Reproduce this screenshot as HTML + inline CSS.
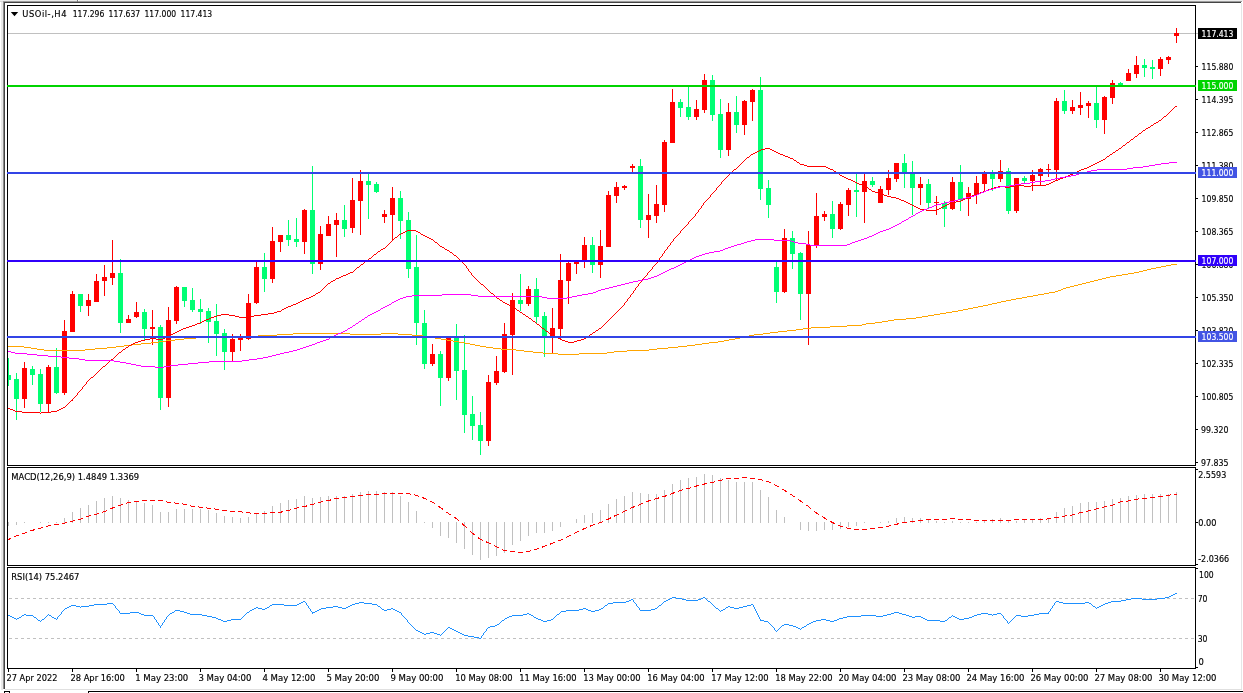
<!DOCTYPE html>
<html lang="en"><head><meta charset="utf-8"><title>USOil-,H4</title>
<style>
html,body{margin:0;padding:0;background:#fff;overflow:hidden}
body{width:1243px;height:693px}
svg{display:block}
text{font-family:"DejaVu Sans Condensed","Liberation Sans",sans-serif;font-size:9.3px;fill:#000;stroke:#000;stroke-width:.15px}
.w{fill:#fff;stroke:#fff}
</style></head><body>
<svg width="1243" height="693" viewBox="0 0 1243 693">
<rect width="1243" height="693" fill="#fff"/>
<g shape-rendering="crispEdges">
<rect x="0" y="0" width="1243" height="1" fill="#ececec"/>
<rect x="0" y="1" width="1242" height="1" fill="#9c9c9c"/><rect x="0" y="1" width="3" height="1" fill="#d8d8d8"/>
<rect x="3" y="2" width="1238" height="1" fill="#444"/>
<rect x="0" y="2" width="1" height="688" fill="#fff"/>
<rect x="1" y="2" width="2" height="688" fill="#e8e8e8"/>
<rect x="3" y="2" width="1" height="687" fill="#8c8c8c"/>
<rect x="4" y="2" width="1" height="687" fill="#444"/>
<rect x="77" y="0" width="1" height="2" fill="#777"/><rect x="78" y="0" width="1" height="1" fill="#fff"/>
<rect x="1241" y="3" width="1" height="687" fill="#e6e6e6"/>
<rect x="5" y="689" width="1237" height="1" fill="#e0e0e0"/>
<rect x="88" y="691" width="1155" height="1" fill="#000"/>
<rect x="88" y="692" width="1" height="1" fill="#000"/><rect x="4" y="691" width="6" height="1" fill="#000"/><rect x="4" y="692" width="1" height="1" fill="#000"/><rect x="9" y="692" width="1" height="1" fill="#000"/>
</g>
<defs><clipPath id="c1"><rect x="8" y="6" width="1187" height="459"/></clipPath><clipPath id="c2"><rect x="8" y="468" width="1187" height="97"/></clipPath><clipPath id="c3"><rect x="8" y="568" width="1187" height="100"/></clipPath></defs>
<g shape-rendering="crispEdges">
<rect x="8" y="33" width="1190" height="1" fill="#c0c0c0"/>
</g>
<g clip-path="url(#c1)" shape-rendering="crispEdges">
<rect x="8" y="358" width="1" height="28" fill="#00ff73"/><rect x="6" y="375" width="5" height="5" fill="#00ff73"/>
<rect x="16" y="373" width="1" height="47" fill="#00ff73"/><rect x="14" y="379" width="5" height="20" fill="#00ff73"/>
<rect x="24" y="362" width="1" height="46" fill="#ff0000"/><rect x="22" y="368" width="5" height="31" fill="#ff0000"/>
<rect x="32" y="366" width="1" height="19" fill="#00ff73"/><rect x="30" y="369" width="5" height="6" fill="#00ff73"/>
<rect x="40" y="369" width="1" height="43" fill="#00ff73"/><rect x="38" y="374" width="5" height="30" fill="#00ff73"/>
<rect x="48" y="365" width="1" height="47" fill="#ff0000"/><rect x="46" y="367" width="5" height="37" fill="#ff0000"/>
<rect x="56" y="348" width="1" height="46" fill="#00ff73"/><rect x="54" y="367" width="5" height="26" fill="#00ff73"/>
<rect x="64" y="320" width="1" height="75" fill="#ff0000"/><rect x="62" y="331" width="5" height="62" fill="#ff0000"/>
<rect x="72" y="291" width="1" height="41" fill="#ff0000"/><rect x="70" y="294" width="5" height="38" fill="#ff0000"/>
<rect x="80" y="294" width="1" height="18" fill="#00ff73"/><rect x="78" y="294" width="5" height="12" fill="#00ff73"/>
<rect x="88" y="294" width="1" height="22" fill="#ff0000"/><rect x="86" y="300" width="5" height="6" fill="#ff0000"/>
<rect x="96" y="274" width="1" height="28" fill="#ff0000"/><rect x="94" y="281" width="5" height="21" fill="#ff0000"/>
<rect x="104" y="265" width="1" height="31" fill="#ff0000"/><rect x="102" y="277" width="5" height="4" fill="#ff0000"/>
<rect x="112" y="240" width="1" height="45" fill="#ff0000"/><rect x="110" y="273" width="5" height="5" fill="#ff0000"/>
<rect x="120" y="259" width="1" height="74" fill="#00ff73"/><rect x="118" y="273" width="5" height="50" fill="#00ff73"/>
<rect x="128" y="315" width="1" height="8" fill="#ff0000"/><rect x="126" y="319" width="5" height="4" fill="#ff0000"/>
<rect x="136" y="302" width="1" height="16" fill="#ff0000"/><rect x="134" y="312" width="5" height="5" fill="#ff0000"/>
<rect x="144" y="309" width="1" height="31" fill="#00ff73"/><rect x="142" y="312" width="5" height="17" fill="#00ff73"/>
<rect x="152" y="310" width="1" height="35" fill="#ff0000"/><rect x="150" y="327" width="5" height="2" fill="#ff0000"/>
<rect x="160" y="325" width="1" height="85" fill="#00ff73"/><rect x="158" y="327" width="5" height="71" fill="#00ff73"/>
<rect x="168" y="307" width="1" height="100" fill="#ff0000"/><rect x="166" y="320" width="5" height="78" fill="#ff0000"/>
<rect x="176" y="286" width="1" height="38" fill="#ff0000"/><rect x="174" y="287" width="5" height="34" fill="#ff0000"/>
<rect x="184" y="287" width="1" height="20" fill="#00ff73"/><rect x="182" y="287" width="5" height="14" fill="#00ff73"/>
<rect x="192" y="288" width="1" height="24" fill="#00ff73"/><rect x="190" y="300" width="5" height="10" fill="#00ff73"/>
<rect x="200" y="299" width="1" height="25" fill="#00ff73"/><rect x="198" y="309" width="5" height="3" fill="#00ff73"/>
<rect x="208" y="308" width="1" height="35" fill="#00ff73"/><rect x="206" y="311" width="5" height="11" fill="#00ff73"/>
<rect x="216" y="304" width="1" height="52" fill="#00ff73"/><rect x="214" y="321" width="5" height="13" fill="#00ff73"/>
<rect x="224" y="329" width="1" height="41" fill="#00ff73"/><rect x="222" y="333" width="5" height="19" fill="#00ff73"/>
<rect x="232" y="334" width="1" height="27" fill="#ff0000"/><rect x="230" y="339" width="5" height="13" fill="#ff0000"/>
<rect x="240" y="334" width="1" height="17" fill="#ff0000"/><rect x="238" y="338" width="5" height="2" fill="#ff0000"/>
<rect x="248" y="294" width="1" height="46" fill="#ff0000"/><rect x="246" y="303" width="5" height="36" fill="#ff0000"/>
<rect x="256" y="262" width="1" height="42" fill="#ff0000"/><rect x="254" y="267" width="5" height="36" fill="#ff0000"/>
<rect x="264" y="253" width="1" height="39" fill="#00ff73"/><rect x="262" y="267" width="5" height="12" fill="#00ff73"/>
<rect x="272" y="227" width="1" height="56" fill="#ff0000"/><rect x="270" y="241" width="5" height="38" fill="#ff0000"/>
<rect x="280" y="235" width="1" height="17" fill="#ff0000"/><rect x="278" y="235" width="5" height="7" fill="#ff0000"/>
<rect x="288" y="220" width="1" height="26" fill="#00ff73"/><rect x="286" y="235" width="5" height="5" fill="#00ff73"/>
<rect x="296" y="218" width="1" height="29" fill="#00ff73"/><rect x="294" y="239" width="5" height="3" fill="#00ff73"/>
<rect x="304" y="209" width="1" height="45" fill="#ff0000"/><rect x="302" y="210" width="5" height="32" fill="#ff0000"/>
<rect x="312" y="166" width="1" height="108" fill="#00ff73"/><rect x="310" y="210" width="5" height="54" fill="#00ff73"/>
<rect x="320" y="226" width="1" height="44" fill="#ff0000"/><rect x="318" y="234" width="5" height="30" fill="#ff0000"/>
<rect x="328" y="216" width="1" height="20" fill="#ff0000"/><rect x="326" y="224" width="5" height="12" fill="#ff0000"/>
<rect x="336" y="213" width="1" height="44" fill="#ff0000"/><rect x="334" y="220" width="5" height="5" fill="#ff0000"/>
<rect x="344" y="205" width="1" height="32" fill="#00ff73"/><rect x="342" y="220" width="5" height="9" fill="#00ff73"/>
<rect x="352" y="178" width="1" height="55" fill="#ff0000"/><rect x="350" y="200" width="5" height="28" fill="#ff0000"/>
<rect x="360" y="170" width="1" height="65" fill="#ff0000"/><rect x="358" y="181" width="5" height="20" fill="#ff0000"/>
<rect x="368" y="174" width="1" height="45" fill="#00ff73"/><rect x="366" y="181" width="5" height="4" fill="#00ff73"/>
<rect x="376" y="182" width="1" height="11" fill="#00ff73"/><rect x="374" y="184" width="5" height="8" fill="#00ff73"/>
<rect x="384" y="210" width="1" height="13" fill="#ff0000"/><rect x="382" y="214" width="5" height="3" fill="#ff0000"/>
<rect x="392" y="187" width="1" height="54" fill="#ff0000"/><rect x="390" y="198" width="5" height="17" fill="#ff0000"/>
<rect x="400" y="191" width="1" height="48" fill="#00ff73"/><rect x="398" y="198" width="5" height="23" fill="#00ff73"/>
<rect x="408" y="212" width="1" height="66" fill="#00ff73"/><rect x="406" y="220" width="5" height="49" fill="#00ff73"/>
<rect x="416" y="235" width="1" height="110" fill="#00ff73"/><rect x="414" y="267" width="5" height="56" fill="#00ff73"/>
<rect x="424" y="310" width="1" height="59" fill="#00ff73"/><rect x="422" y="323" width="5" height="41" fill="#00ff73"/>
<rect x="432" y="344" width="1" height="22" fill="#ff0000"/><rect x="430" y="354" width="5" height="10" fill="#ff0000"/>
<rect x="440" y="351" width="1" height="55" fill="#00ff73"/><rect x="438" y="354" width="5" height="24" fill="#00ff73"/>
<rect x="448" y="336" width="1" height="45" fill="#ff0000"/><rect x="446" y="336" width="5" height="42" fill="#ff0000"/>
<rect x="456" y="324" width="1" height="76" fill="#00ff73"/><rect x="454" y="337" width="5" height="34" fill="#00ff73"/>
<rect x="464" y="335" width="1" height="98" fill="#00ff73"/><rect x="462" y="370" width="5" height="45" fill="#00ff73"/>
<rect x="472" y="396" width="1" height="44" fill="#00ff73"/><rect x="470" y="414" width="5" height="12" fill="#00ff73"/>
<rect x="480" y="412" width="1" height="43" fill="#00ff73"/><rect x="478" y="425" width="5" height="16" fill="#00ff73"/>
<rect x="488" y="375" width="1" height="71" fill="#ff0000"/><rect x="486" y="382" width="5" height="59" fill="#ff0000"/>
<rect x="496" y="356" width="1" height="29" fill="#ff0000"/><rect x="494" y="371" width="5" height="12" fill="#ff0000"/>
<rect x="504" y="323" width="1" height="50" fill="#ff0000"/><rect x="502" y="334" width="5" height="38" fill="#ff0000"/>
<rect x="512" y="293" width="1" height="82" fill="#ff0000"/><rect x="510" y="300" width="5" height="35" fill="#ff0000"/>
<rect x="520" y="274" width="1" height="37" fill="#00ff73"/><rect x="518" y="300" width="5" height="4" fill="#00ff73"/>
<rect x="528" y="286" width="1" height="20" fill="#ff0000"/><rect x="526" y="289" width="5" height="15" fill="#ff0000"/>
<rect x="536" y="278" width="1" height="45" fill="#00ff73"/><rect x="534" y="289" width="5" height="28" fill="#00ff73"/>
<rect x="544" y="312" width="1" height="45" fill="#00ff73"/><rect x="542" y="316" width="5" height="20" fill="#00ff73"/>
<rect x="552" y="308" width="1" height="45" fill="#ff0000"/><rect x="550" y="328" width="5" height="8" fill="#ff0000"/>
<rect x="560" y="254" width="1" height="85" fill="#ff0000"/><rect x="558" y="280" width="5" height="49" fill="#ff0000"/>
<rect x="568" y="260" width="1" height="44" fill="#ff0000"/><rect x="566" y="263" width="5" height="18" fill="#ff0000"/>
<rect x="576" y="262" width="1" height="12" fill="#ff0000"/><rect x="574" y="262" width="5" height="2" fill="#ff0000"/>
<rect x="584" y="237" width="1" height="31" fill="#ff0000"/><rect x="582" y="245" width="5" height="17" fill="#ff0000"/>
<rect x="592" y="237" width="1" height="36" fill="#00ff73"/><rect x="590" y="245" width="5" height="20" fill="#00ff73"/>
<rect x="600" y="230" width="1" height="48" fill="#ff0000"/><rect x="598" y="246" width="5" height="19" fill="#ff0000"/>
<rect x="608" y="191" width="1" height="56" fill="#ff0000"/><rect x="606" y="195" width="5" height="52" fill="#ff0000"/>
<rect x="616" y="182" width="1" height="21" fill="#ff0000"/><rect x="614" y="187" width="5" height="9" fill="#ff0000"/>
<rect x="624" y="185" width="1" height="5" fill="#ff0000"/><rect x="622" y="186" width="5" height="2" fill="#ff0000"/>
<rect x="632" y="164" width="1" height="8" fill="#ff0000"/><rect x="630" y="166" width="5" height="2" fill="#ff0000"/>
<rect x="640" y="159" width="1" height="69" fill="#00ff73"/><rect x="638" y="166" width="5" height="54" fill="#00ff73"/>
<rect x="648" y="194" width="1" height="44" fill="#ff0000"/><rect x="646" y="215" width="5" height="5" fill="#ff0000"/>
<rect x="656" y="185" width="1" height="38" fill="#ff0000"/><rect x="654" y="204" width="5" height="12" fill="#ff0000"/>
<rect x="664" y="140" width="1" height="72" fill="#ff0000"/><rect x="662" y="142" width="5" height="63" fill="#ff0000"/>
<rect x="672" y="89" width="1" height="54" fill="#ff0000"/><rect x="670" y="102" width="5" height="41" fill="#ff0000"/>
<rect x="680" y="99" width="1" height="18" fill="#00ff73"/><rect x="678" y="102" width="5" height="6" fill="#00ff73"/>
<rect x="688" y="87" width="1" height="33" fill="#00ff73"/><rect x="686" y="107" width="5" height="10" fill="#00ff73"/>
<rect x="696" y="100" width="1" height="20" fill="#ff0000"/><rect x="694" y="109" width="5" height="8" fill="#ff0000"/>
<rect x="704" y="74" width="1" height="39" fill="#ff0000"/><rect x="702" y="80" width="5" height="30" fill="#ff0000"/>
<rect x="712" y="75" width="1" height="46" fill="#00ff73"/><rect x="710" y="80" width="5" height="35" fill="#00ff73"/>
<rect x="720" y="99" width="1" height="59" fill="#00ff73"/><rect x="718" y="114" width="5" height="36" fill="#00ff73"/>
<rect x="728" y="103" width="1" height="53" fill="#ff0000"/><rect x="726" y="112" width="5" height="38" fill="#ff0000"/>
<rect x="736" y="96" width="1" height="37" fill="#00ff73"/><rect x="734" y="112" width="5" height="13" fill="#00ff73"/>
<rect x="744" y="100" width="1" height="35" fill="#ff0000"/><rect x="742" y="101" width="5" height="24" fill="#ff0000"/>
<rect x="752" y="89" width="1" height="32" fill="#ff0000"/><rect x="750" y="90" width="5" height="12" fill="#ff0000"/>
<rect x="760" y="77" width="1" height="123" fill="#00ff73"/><rect x="758" y="90" width="5" height="99" fill="#00ff73"/>
<rect x="768" y="180" width="1" height="38" fill="#00ff73"/><rect x="766" y="188" width="5" height="17" fill="#00ff73"/>
<rect x="776" y="262" width="1" height="41" fill="#00ff73"/><rect x="774" y="267" width="5" height="25" fill="#00ff73"/>
<rect x="784" y="229" width="1" height="64" fill="#ff0000"/><rect x="782" y="238" width="5" height="54" fill="#ff0000"/>
<rect x="792" y="231" width="1" height="38" fill="#00ff73"/><rect x="790" y="238" width="5" height="16" fill="#00ff73"/>
<rect x="800" y="252" width="1" height="68" fill="#00ff73"/><rect x="798" y="253" width="5" height="41" fill="#00ff73"/>
<rect x="808" y="231" width="1" height="114" fill="#ff0000"/><rect x="806" y="245" width="5" height="49" fill="#ff0000"/>
<rect x="816" y="193" width="1" height="55" fill="#ff0000"/><rect x="814" y="216" width="5" height="29" fill="#ff0000"/>
<rect x="824" y="211" width="1" height="10" fill="#ff0000"/><rect x="822" y="214" width="5" height="3" fill="#ff0000"/>
<rect x="832" y="201" width="1" height="37" fill="#00ff73"/><rect x="830" y="214" width="5" height="15" fill="#00ff73"/>
<rect x="840" y="202" width="1" height="28" fill="#ff0000"/><rect x="838" y="204" width="5" height="25" fill="#ff0000"/>
<rect x="848" y="188" width="1" height="28" fill="#ff0000"/><rect x="846" y="190" width="5" height="15" fill="#ff0000"/>
<rect x="856" y="174" width="1" height="43" fill="#00ff73"/><rect x="854" y="190" width="5" height="2" fill="#00ff73"/>
<rect x="864" y="174" width="1" height="49" fill="#ff0000"/><rect x="862" y="181" width="5" height="11" fill="#ff0000"/>
<rect x="872" y="177" width="1" height="10" fill="#00ff73"/><rect x="870" y="181" width="5" height="4" fill="#00ff73"/>
<rect x="880" y="186" width="1" height="17" fill="#ff0000"/><rect x="878" y="189" width="5" height="14" fill="#ff0000"/>
<rect x="888" y="170" width="1" height="25" fill="#ff0000"/><rect x="886" y="178" width="5" height="12" fill="#ff0000"/>
<rect x="896" y="163" width="1" height="19" fill="#ff0000"/><rect x="894" y="163" width="5" height="16" fill="#ff0000"/>
<rect x="904" y="154" width="1" height="34" fill="#00ff73"/><rect x="902" y="163" width="5" height="11" fill="#00ff73"/>
<rect x="912" y="161" width="1" height="54" fill="#00ff73"/><rect x="910" y="172" width="5" height="16" fill="#00ff73"/>
<rect x="920" y="177" width="1" height="28" fill="#ff0000"/><rect x="918" y="184" width="5" height="4" fill="#ff0000"/>
<rect x="928" y="179" width="1" height="30" fill="#00ff73"/><rect x="926" y="184" width="5" height="19" fill="#00ff73"/>
<rect x="936" y="196" width="1" height="19" fill="#ff0000"/><rect x="934" y="202" width="5" height="1" fill="#ff0000"/>
<rect x="944" y="201" width="1" height="26" fill="#00ff73"/><rect x="942" y="203" width="5" height="6" fill="#00ff73"/>
<rect x="952" y="177" width="1" height="33" fill="#ff0000"/><rect x="950" y="182" width="5" height="27" fill="#ff0000"/>
<rect x="960" y="165" width="1" height="46" fill="#00ff73"/><rect x="958" y="182" width="5" height="18" fill="#00ff73"/>
<rect x="968" y="187" width="1" height="29" fill="#ff0000"/><rect x="966" y="193" width="5" height="6" fill="#ff0000"/>
<rect x="976" y="176" width="1" height="28" fill="#ff0000"/><rect x="974" y="183" width="5" height="12" fill="#ff0000"/>
<rect x="984" y="171" width="1" height="21" fill="#ff0000"/><rect x="982" y="174" width="5" height="10" fill="#ff0000"/>
<rect x="992" y="170" width="1" height="21" fill="#00ff73"/><rect x="990" y="174" width="5" height="5" fill="#00ff73"/>
<rect x="1000" y="160" width="1" height="22" fill="#ff0000"/><rect x="998" y="171" width="5" height="8" fill="#ff0000"/>
<rect x="1008" y="168" width="1" height="46" fill="#00ff73"/><rect x="1006" y="171" width="5" height="40" fill="#00ff73"/>
<rect x="1016" y="178" width="1" height="35" fill="#ff0000"/><rect x="1014" y="178" width="5" height="33" fill="#ff0000"/>
<rect x="1024" y="176" width="1" height="7" fill="#00ff73"/><rect x="1022" y="178" width="5" height="3" fill="#00ff73"/>
<rect x="1032" y="170" width="1" height="21" fill="#ff0000"/><rect x="1030" y="175" width="5" height="6" fill="#ff0000"/>
<rect x="1040" y="168" width="1" height="17" fill="#ff0000"/><rect x="1038" y="169" width="5" height="7" fill="#ff0000"/>
<rect x="1048" y="164" width="1" height="13" fill="#ff0000"/><rect x="1046" y="169" width="5" height="1" fill="#ff0000"/>
<rect x="1056" y="98" width="1" height="82" fill="#ff0000"/><rect x="1054" y="101" width="5" height="69" fill="#ff0000"/>
<rect x="1064" y="90" width="1" height="24" fill="#00ff73"/><rect x="1062" y="101" width="5" height="10" fill="#00ff73"/>
<rect x="1072" y="100" width="1" height="14" fill="#ff0000"/><rect x="1070" y="107" width="5" height="4" fill="#ff0000"/>
<rect x="1080" y="92" width="1" height="23" fill="#ff0000"/><rect x="1078" y="105" width="5" height="3" fill="#ff0000"/>
<rect x="1088" y="101" width="1" height="17" fill="#ff0000"/><rect x="1086" y="103" width="5" height="3" fill="#ff0000"/>
<rect x="1096" y="87" width="1" height="41" fill="#00ff73"/><rect x="1094" y="103" width="5" height="17" fill="#00ff73"/>
<rect x="1104" y="96" width="1" height="38" fill="#ff0000"/><rect x="1102" y="97" width="5" height="23" fill="#ff0000"/>
<rect x="1112" y="80" width="1" height="24" fill="#ff0000"/><rect x="1110" y="83" width="5" height="15" fill="#ff0000"/>
<rect x="1120" y="82" width="1" height="5" fill="#00ff73"/><rect x="1118" y="83" width="5" height="4" fill="#00ff73"/>
<rect x="1128" y="69" width="1" height="12" fill="#ff0000"/><rect x="1126" y="73" width="5" height="8" fill="#ff0000"/>
<rect x="1136" y="56" width="1" height="22" fill="#ff0000"/><rect x="1134" y="65" width="5" height="9" fill="#ff0000"/>
<rect x="1144" y="59" width="1" height="18" fill="#00ff73"/><rect x="1142" y="65" width="5" height="3" fill="#00ff73"/>
<rect x="1152" y="60" width="1" height="19" fill="#00ff73"/><rect x="1150" y="67" width="5" height="2" fill="#00ff73"/>
<rect x="1160" y="57" width="1" height="19" fill="#ff0000"/><rect x="1158" y="59" width="5" height="10" fill="#ff0000"/>
<rect x="1168" y="56" width="1" height="8" fill="#ff0000"/><rect x="1166" y="57" width="5" height="3" fill="#ff0000"/>
<rect x="1176" y="28" width="1" height="15" fill="#ff0000"/><rect x="1174" y="33" width="5" height="3" fill="#ff0000"/>
</g>
<g clip-path="url(#c1)" shape-rendering="crispEdges">
<path d="M1171 264h6M1166 265h5M1161 266h5M1156 267h5M1151 268h5M1147 269h4M1143 270h4M1139 271h4M1134 272h5M1128 273h6M1122 274h6M1116 275h6M1110 276h6M1106 277h4M1102 278h4M1098 279h4M1094 280h4M1090 281h4M1086 282h4M1082 283h4M1078 284h4M1074 285h4M1070 286h4M1066 287h4M1063 288h3M1061 289h2M1058 290h3M1055 291h3M1049 292h6M1044 293h5M1038 294h6M1033 295h5M1027 296h6M1022 297h5M1016 298h6M1011 299h5M1006 300h5M1001 301h5M997 302h4M992 303h5M988 304h4M983 305h5M978 306h5M973 307h5M968 308h5M963 309h5M958 310h5M952 311h6M946 312h6M940 313h6M934 314h6M928 315h6M922 316h6M916 317h6M906 318h10M894 319h12M888 320h6M882 321h6M875 322h7M866 323h9M862 324h4M847 325h15M830 326h17M811 327h19M803 328h8M796 329h7M787 330h9M778 331h9M770 332h8M293 333h57M381 333h17M763 333h7M277 334h16M350 334h31M398 334h14M754 334h9M258 335h19M412 335h11M749 335h5M225 336h33M423 336h6M745 336h4M196 337h29M429 337h6M740 337h5M184 338h12M435 338h6M735 338h5M175 339h9M441 339h6M729 339h6M166 340h9M447 340h6M724 340h5M159 341h7M453 341h6M718 341h6M151 342h8M459 342h6M709 342h9M141 343h10M465 343h5M702 343h7M132 344h9M470 344h5M695 344h7M124 345h8M475 345h5M687 345h8M8 346h16M116 346h8M480 346h6M678 346h9M24 347h7M107 347h9M486 347h7M668 347h10M31 348h6M95 348h12M493 348h8M657 348h11M37 349h7M85 349h10M501 349h15M649 349h8M44 350h41M516 350h8M627 350h22M524 351h9M614 351h13M533 352h10M607 352h7M543 353h15M579 353h28M558 354h21" fill="none" stroke="#ffa500" stroke-width="1" transform="translate(0,0.5)" />
<path d="M1175 106h2M1174 107h1M1173 108h1M1172 109h1M1171 110h1M1170 111h1M1169 112h1M1168 113h1M1167 114h1M1166 115h1M1164 116h2M1163 117h1M1162 118h1M1161 119h1M1159 120h2M1158 121h1M1156 122h2M1154 123h2M1153 124h1M1151 125h2M1150 126h1M1148 127h2M1146 128h2M1145 129h1M1143 130h2M1142 131h1M1141 132h1M1139 133h2M1138 134h1M1137 135h1M1135 136h2M1134 137h1M1133 138h1M1131 139h2M1130 140h1M1129 141h1M1127 142h2M1126 143h1M1125 144h1M1123 145h2M1122 146h1M1121 147h1M765 148h5M1119 148h2M761 149h4M770 149h2M1118 149h1M759 150h2M772 150h2M1116 150h2M757 151h2M774 151h2M1115 151h1M755 152h2M776 152h2M1113 152h2M753 153h2M778 153h2M1112 153h1M751 154h2M780 154h3M1110 154h2M750 155h1M783 155h2M1109 155h1M749 156h1M785 156h3M1107 156h2M747 157h2M788 157h2M1106 157h1M746 158h1M790 158h3M1105 158h1M745 159h1M793 159h1M1103 159h2M744 160h1M794 160h2M1101 160h2M743 161h1M796 161h1M1099 161h2M742 162h1M797 162h2M1097 162h2M741 163h1M799 163h1M1095 163h2M740 164h1M800 164h4M1093 164h2M739 165h1M804 165h3M1091 165h2M738 166h1M807 166h19M1089 166h2M737 167h1M826 167h2M1087 167h2M736 168h1M828 168h2M1084 168h3M734 169h2M830 169h3M1081 169h3M733 170h1M833 170h1M1079 170h2M732 171h1M834 171h2M1077 171h2M731 172h1M836 172h1M1075 172h2M730 173h1M837 173h2M1073 173h2M729 174h1M839 174h1M1070 174h3M728 175h1M840 175h2M1068 175h2M727 176h1M842 176h2M1066 176h2M726 177h1M844 177h2M1063 177h3M725 178h1M846 178h2M1060 178h3M724 179h1M848 179h3M1058 179h2M723 180h1M851 180h2M1055 180h3M722 181h1M853 181h2M1053 181h2M721 182h1M855 182h2M1051 182h2M721 183h1M857 183h2M1049 183h2M720 184h1M859 184h3M1046 184h3M719 185h1M862 185h2M1014 185h10M1031 185h15M718 186h1M864 186h2M998 186h7M1010 186h4M1024 186h7M717 187h1M866 187h2M994 187h4M1005 187h5M716 188h1M868 188h1M991 188h3M716 189h1M869 189h2M988 189h3M715 190h1M871 190h1M986 190h2M714 191h1M872 191h3M983 191h3M713 192h1M875 192h3M980 192h3M712 193h1M878 193h2M977 193h3M711 194h1M880 194h4M975 194h2M710 195h1M884 195h3M972 195h3M710 196h1M887 196h4M970 196h2M709 197h1M891 197h5M967 197h3M708 198h1M896 198h3M965 198h2M707 199h1M899 199h2M963 199h2M706 200h1M901 200h3M961 200h2M705 201h1M904 201h2M956 201h5M704 202h1M906 202h2M952 202h4M703 203h1M908 203h2M949 203h3M703 204h1M910 204h2M947 204h2M702 205h1M912 205h2M945 205h2M701 206h1M914 206h2M943 206h2M701 207h1M916 207h2M941 207h2M700 208h1M918 208h2M939 208h2M699 209h1M920 209h6M937 209h2M698 210h1M926 210h11M698 211h1M697 212h1M696 213h1M695 214h1M695 215h1M694 216h1M693 217h1M692 218h1M691 219h1M690 220h1M689 221h1M688 222h1M688 223h1M687 224h1M686 225h1M685 226h1M684 227h1M683 228h1M682 229h1M407 230h9M681 230h1M405 231h2M416 231h2M680 231h1M403 232h2M418 232h2M680 232h1M401 233h2M420 233h1M679 233h1M399 234h2M421 234h2M678 234h1M398 235h1M423 235h2M677 235h1M397 236h1M425 236h2M676 236h1M395 237h2M427 237h2M675 237h1M394 238h1M429 238h2M674 238h1M393 239h1M431 239h2M673 239h1M392 240h1M433 240h1M673 240h1M391 241h1M434 241h1M672 241h1M390 242h1M435 242h2M671 242h1M389 243h1M437 243h1M670 243h1M388 244h1M438 244h1M670 244h1M387 245h1M439 245h1M669 245h1M386 246h1M440 246h2M668 246h1M385 247h1M442 247h2M667 247h1M383 248h2M444 248h1M667 248h1M381 249h2M445 249h2M666 249h1M380 250h1M447 250h2M665 250h1M378 251h2M449 251h1M664 251h1M377 252h1M450 252h2M664 252h1M376 253h1M452 253h1M663 253h1M374 254h2M453 254h1M662 254h1M373 255h1M454 255h2M662 255h1M372 256h1M456 256h1M661 256h1M371 257h1M457 257h1M660 257h1M369 258h2M458 258h1M659 258h1M368 259h1M459 259h1M659 259h1M367 260h1M460 260h1M658 260h1M365 261h2M461 261h1M657 261h1M364 262h1M462 262h1M657 262h1M363 263h1M463 263h1M656 263h1M361 264h2M464 264h1M655 264h1M360 265h1M465 265h1M654 265h1M359 266h1M466 266h1M653 266h1M357 267h2M466 267h1M652 267h1M356 268h1M467 268h1M652 268h1M355 269h1M468 269h1M651 269h1M354 270h1M468 270h1M650 270h1M353 271h1M469 271h1M649 271h1M350 272h3M470 272h1M648 272h1M348 273h2M471 273h1M647 273h1M346 274h2M471 274h1M647 274h1M343 275h3M472 275h1M646 275h1M341 276h2M473 276h1M645 276h1M339 277h2M474 277h1M644 277h1M336 278h3M475 278h1M643 278h1M335 279h1M476 279h1M642 279h1M333 280h2M477 280h1M641 280h1M331 281h2M478 281h1M641 281h1M330 282h1M479 282h1M640 282h1M328 283h2M480 283h1M639 283h1M327 284h1M481 284h2M638 284h1M326 285h1M483 285h1M638 285h1M325 286h1M484 286h1M637 286h1M324 287h1M485 287h1M636 287h1M323 288h1M486 288h1M635 288h1M322 289h1M487 289h1M635 289h1M321 290h1M488 290h1M634 290h1M320 291h1M489 291h1M633 291h1M318 292h2M490 292h1M633 292h1M316 293h2M491 293h2M632 293h1M315 294h1M493 294h1M631 294h1M313 295h2M494 295h1M630 295h1M311 296h2M495 296h1M630 296h1M309 297h2M496 297h1M629 297h1M306 298h3M497 298h2M628 298h1M304 299h2M499 299h1M627 299h1M302 300h2M500 300h2M627 300h1M300 301h2M502 301h1M626 301h1M298 302h2M503 302h2M625 302h1M296 303h2M505 303h2M624 303h1M293 304h3M507 304h2M624 304h1M291 305h2M509 305h2M623 305h1M288 306h3M511 306h1M622 306h1M286 307h2M512 307h2M621 307h1M284 308h2M514 308h2M620 308h1M282 309h2M516 309h1M619 309h1M281 310h1M517 310h2M618 310h1M277 311h4M519 311h1M617 311h1M274 312h3M520 312h2M616 312h1M268 313h6M522 313h1M615 313h1M221 314h8M261 314h7M523 314h2M614 314h1M217 315h4M229 315h6M254 315h7M525 315h1M613 315h1M214 316h3M235 316h4M249 316h5M526 316h2M612 316h1M211 317h3M239 317h10M528 317h1M611 317h1M209 318h2M529 318h2M610 318h1M206 319h3M531 319h1M609 319h1M204 320h2M532 320h1M608 320h1M202 321h2M533 321h2M607 321h1M200 322h2M535 322h1M606 322h1M197 323h3M536 323h1M605 323h1M195 324h2M537 324h2M604 324h1M192 325h3M539 325h1M603 325h1M189 326h3M540 326h1M602 326h1M186 327h3M541 327h1M601 327h1M183 328h3M542 328h2M599 328h2M181 329h2M544 329h1M598 329h1M179 330h2M545 330h1M596 330h2M177 331h2M546 331h2M595 331h1M175 332h2M548 332h1M593 332h2M173 333h2M549 333h1M592 333h1M171 334h2M550 334h2M590 334h2M170 335h1M552 335h2M589 335h1M168 336h2M554 336h2M587 336h2M165 337h3M556 337h2M586 337h1M150 338h6M163 338h2M558 338h2M584 338h2M145 339h5M156 339h7M560 339h2M581 339h3M141 340h4M562 340h3M577 340h4M138 341h3M565 341h3M574 341h3M135 342h3M568 342h6M133 343h2M131 344h2M129 345h2M128 346h1M126 347h2M125 348h1M123 349h2M122 350h1M121 351h1M119 352h2M118 353h1M117 354h1M116 355h1M115 356h1M114 357h1M113 358h1M111 359h2M110 360h1M109 361h1M108 362h1M107 363h1M106 364h1M105 365h1M103 366h2M102 367h1M101 368h1M100 369h1M99 370h1M98 371h1M97 372h1M96 373h1M95 374h1M94 375h1M93 376h1M91 377h2M90 378h1M89 379h1M88 380h1M87 381h1M86 382h1M86 383h1M85 384h1M84 385h1M83 386h1M82 387h1M82 388h1M81 389h1M80 390h1M79 391h1M78 392h1M77 393h1M77 394h1M76 395h1M75 396h1M74 397h1M73 398h1M72 399h1M71 400h2M70 401h1M69 402h1M68 403h1M67 404h1M66 405h1M65 406h1M63 407h2M8 408h2M61 408h2M10 409h3M59 409h2M13 410h2M57 410h2M15 411h7M51 411h6M22 412h18M41 412h10M40 413h1" fill="none" stroke="#ff0000" stroke-width="1" transform="translate(0,0.5)" />
<path d="M1169 162h8M1161 163h8M1155 164h6M1149 165h6M1143 166h6M1133 167h10M1127 168h6M1097 169h30M1091 170h6M1087 171h4M1083 172h4M1079 173h4M1076 174h3M1071 175h5M1065 176h6M1060 177h5M1055 178h5M1051 179h4M1045 180h6M1035 181h10M1030 182h5M1021 183h9M1015 184h6M1009 185h6M1000 186h9M996 187h4M993 188h3M989 189h4M986 190h3M984 191h2M981 192h3M979 193h2M977 194h2M974 195h3M970 196h4M966 197h4M962 198h4M958 199h4M954 200h4M949 201h5M945 202h4M941 203h4M937 204h4M934 205h3M932 206h2M929 207h3M927 208h2M924 209h3M922 210h2M920 211h2M918 212h2M916 213h2M915 214h1M913 215h2M911 216h2M909 217h2M908 218h1M906 219h2M904 220h2M902 221h2M901 222h1M899 223h2M897 224h2M895 225h2M893 226h2M891 227h2M889 228h2M886 229h3M883 230h3M880 231h3M878 232h2M876 233h2M874 234h2M872 235h2M869 236h3M867 237h2M864 238h3M755 239h19M861 239h3M751 240h4M774 240h17M858 240h3M747 241h4M791 241h3M855 241h3M744 242h3M794 242h4M852 242h3M741 243h3M798 243h8M850 243h2M737 244h4M806 244h4M847 244h3M734 245h3M810 245h37M731 246h3M728 247h3M725 248h3M723 249h2M720 250h3M714 251h6M709 252h5M705 253h4M702 254h3M699 255h3M696 256h3M694 257h2M692 258h2M690 259h2M688 260h2M686 261h2M684 262h2M682 263h2M680 264h2M678 265h2M676 266h2M674 267h2M671 268h3M669 269h2M667 270h2M665 271h2M663 272h2M661 273h2M659 274h2M657 275h2M654 276h3M651 277h3M648 278h3M643 279h5M638 280h5M633 281h5M629 282h4M625 283h4M621 284h4M617 285h4M613 286h4M609 287h4M605 288h4M601 289h4M598 290h3M596 291h2M593 292h3M588 293h5M442 294h29M582 294h6M412 295h30M471 295h7M577 295h5M406 296h6M478 296h64M572 296h5M403 297h3M542 297h5M567 297h5M400 298h3M547 298h20M398 299h2M396 300h2M394 301h2M392 302h2M391 303h1M389 304h2M387 305h2M385 306h2M383 307h2M381 308h2M380 309h1M378 310h2M376 311h2M374 312h2M372 313h2M370 314h2M368 315h2M367 316h1M365 317h2M364 318h1M362 319h2M361 320h1M359 321h2M358 322h1M356 323h2M355 324h1M353 325h2M352 326h1M350 327h2M348 328h2M347 329h1M345 330h2M343 331h2M341 332h2M338 333h3M336 334h2M334 335h2M332 336h2M330 337h2M329 338h1M326 339h3M323 340h3M320 341h3M317 342h3M315 343h2M312 344h3M309 345h3M306 346h3M303 347h3M300 348h3M297 349h3M293 350h4M8 351h3M289 351h4M11 352h4M284 352h5M15 353h12M280 353h4M27 354h10M276 354h4M37 355h11M272 355h4M48 356h13M268 356h4M61 357h8M263 357h5M69 358h10M257 358h6M79 359h6M249 359h8M85 360h29M242 360h7M114 361h6M209 361h33M120 362h6M198 362h11M126 363h5M188 363h10M131 364h5M178 364h10M136 365h5M170 365h8M141 366h14M164 366h6M155 367h9" fill="none" stroke="#ff00ff" stroke-width="1" transform="translate(0,0.5)" />
</g>
<g shape-rendering="crispEdges" fill="#000">
<rect x="7" y="5" width="1189" height="1"/><rect x="7" y="465" width="1189" height="1"/><rect x="7" y="5" width="1" height="461"/><rect x="1195" y="5" width="1" height="461"/>
<rect x="7" y="467" width="1189" height="1"/><rect x="7" y="565" width="1189" height="1"/><rect x="7" y="467" width="1" height="99"/><rect x="1195" y="467" width="1" height="99"/>
<rect x="7" y="567" width="1189" height="1"/><rect x="7" y="668" width="1189" height="1"/><rect x="7" y="567" width="1" height="102"/><rect x="1195" y="567" width="1" height="102"/>
</g>
<g shape-rendering="crispEdges">
<rect x="7" y="85" width="1189" height="2" fill="#00d400"/>
<rect x="7" y="172" width="1189" height="2" fill="#3344e6"/>
<rect x="7" y="260" width="1189" height="2" fill="#3000fa"/>
<rect x="7" y="336" width="1189" height="2" fill="#3344e6"/>
</g>
<g shape-rendering="crispEdges" fill="#000">
<rect x="1196" y="66" width="2" height="1"/><rect x="1196" y="99" width="2" height="1"/><rect x="1196" y="132" width="2" height="1"/><rect x="1196" y="165" width="2" height="1"/><rect x="1196" y="198" width="2" height="1"/><rect x="1196" y="231" width="2" height="1"/><rect x="1196" y="264" width="2" height="1"/><rect x="1196" y="297" width="2" height="1"/><rect x="1196" y="330" width="2" height="1"/><rect x="1196" y="363" width="2" height="1"/><rect x="1196" y="396" width="2" height="1"/><rect x="1196" y="429" width="2" height="1"/><rect x="1196" y="462" width="2" height="1"/><rect x="1196" y="469" width="2" height="1"/><rect x="1196" y="522" width="2" height="1"/><rect x="1196" y="564" width="2" height="1"/><rect x="1196" y="568" width="2" height="1"/><rect x="1196" y="667" width="2" height="1"/>
</g>
<text x="1201.6" y="69.7" textLength="31.8" lengthAdjust="spacingAndGlyphs">115.880</text>
<text x="1201.6" y="102.7" textLength="31.8" lengthAdjust="spacingAndGlyphs">114.395</text>
<text x="1201.6" y="135.7" textLength="31.8" lengthAdjust="spacingAndGlyphs">112.865</text>
<text x="1201.6" y="168.7" textLength="31.8" lengthAdjust="spacingAndGlyphs">111.380</text>
<text x="1201.6" y="201.7" textLength="31.8" lengthAdjust="spacingAndGlyphs">109.850</text>
<text x="1201.6" y="234.7" textLength="31.8" lengthAdjust="spacingAndGlyphs">108.365</text>
<text x="1201.6" y="267.7" textLength="31.8" lengthAdjust="spacingAndGlyphs">106.880</text>
<text x="1201.6" y="300.7" textLength="31.8" lengthAdjust="spacingAndGlyphs">105.350</text>
<text x="1201.6" y="333.7" textLength="31.8" lengthAdjust="spacingAndGlyphs">103.820</text>
<text x="1201.6" y="366.7" textLength="31.8" lengthAdjust="spacingAndGlyphs">102.335</text>
<text x="1201.6" y="399.7" textLength="31.8" lengthAdjust="spacingAndGlyphs">100.805</text>
<text x="1200.9" y="432.7" textLength="27.5" lengthAdjust="spacingAndGlyphs">99.320</text>
<text x="1200.9" y="465.7" textLength="27.5" lengthAdjust="spacingAndGlyphs">97.835</text>
<g shape-rendering="crispEdges">
<rect x="1198" y="28" width="39" height="11" fill="#000"/>
<rect x="1198" y="80" width="39" height="11" fill="#00d400"/>
<rect x="1198" y="167" width="39" height="11" fill="#4254e4"/>
<rect x="1198" y="255" width="39" height="11" fill="#3000fa"/>
<rect x="1198" y="331" width="39" height="11" fill="#4254e4"/>
</g>
<text class="w" x="1201.6" y="36.9" textLength="31.8" lengthAdjust="spacingAndGlyphs">117.413</text>
<text class="w" x="1201.6" y="88.9" textLength="31.8" lengthAdjust="spacingAndGlyphs">115.000</text>
<text class="w" x="1201.6" y="175.9" textLength="31.8" lengthAdjust="spacingAndGlyphs">111.000</text>
<text class="w" x="1201.6" y="263.9" textLength="31.8" lengthAdjust="spacingAndGlyphs">107.000</text>
<text class="w" x="1201.6" y="339.9" textLength="31.8" lengthAdjust="spacingAndGlyphs">103.500</text>
<path d="M10.8 12 L18.2 12 L14.5 16.2 Z" fill="#000"/>
<text x="22.3" y="17" textLength="44.2" lengthAdjust="spacing">USOil-,H4</text>
<text x="72.7" y="17" textLength="31.6" lengthAdjust="spacingAndGlyphs">117.296</text>
<text x="108.6" y="17" textLength="31.6" lengthAdjust="spacingAndGlyphs">117.637</text>
<text x="144.5" y="17" textLength="31.6" lengthAdjust="spacingAndGlyphs">117.000</text>
<text x="180.6" y="17" textLength="31.6" lengthAdjust="spacingAndGlyphs">117.413</text>
<g clip-path="url(#c2)" shape-rendering="crispEdges" fill="#c0c0c0">
<rect x="8" y="522" width="1" height="4"/><rect x="16" y="522" width="1" height="3"/><rect x="24" y="522" width="1" height="1"/><rect x="64" y="518" width="1" height="5"/><rect x="72" y="512" width="1" height="11"/><rect x="80" y="508" width="1" height="15"/><rect x="88" y="505" width="1" height="18"/><rect x="96" y="501" width="1" height="22"/><rect x="104" y="498" width="1" height="25"/><rect x="112" y="496" width="1" height="27"/><rect x="120" y="498" width="1" height="25"/><rect x="128" y="500" width="1" height="23"/><rect x="136" y="501" width="1" height="22"/><rect x="144" y="503" width="1" height="20"/><rect x="152" y="505" width="1" height="18"/><rect x="160" y="512" width="1" height="11"/><rect x="168" y="512" width="1" height="11"/><rect x="176" y="509" width="1" height="14"/><rect x="184" y="509" width="1" height="14"/><rect x="192" y="509" width="1" height="14"/><rect x="200" y="509" width="1" height="14"/><rect x="208" y="510" width="1" height="13"/><rect x="216" y="513" width="1" height="10"/><rect x="224" y="516" width="1" height="7"/><rect x="232" y="517" width="1" height="6"/><rect x="240" y="518" width="1" height="5"/><rect x="248" y="517" width="1" height="6"/><rect x="256" y="514" width="1" height="9"/><rect x="264" y="511" width="1" height="12"/><rect x="272" y="506" width="1" height="17"/><rect x="280" y="503" width="1" height="20"/><rect x="288" y="500" width="1" height="23"/><rect x="296" y="499" width="1" height="24"/><rect x="304" y="496" width="1" height="27"/><rect x="312" y="498" width="1" height="25"/><rect x="320" y="497" width="1" height="26"/><rect x="328" y="496" width="1" height="27"/><rect x="336" y="496" width="1" height="27"/><rect x="344" y="496" width="1" height="27"/><rect x="352" y="494" width="1" height="29"/><rect x="360" y="492" width="1" height="31"/><rect x="368" y="491" width="1" height="32"/><rect x="376" y="491" width="1" height="32"/><rect x="384" y="492" width="1" height="31"/><rect x="392" y="492" width="1" height="31"/><rect x="400" y="496" width="1" height="27"/><rect x="408" y="502" width="1" height="21"/><rect x="416" y="511" width="1" height="12"/><rect x="432" y="522" width="1" height="6"/><rect x="440" y="522" width="1" height="14"/><rect x="448" y="522" width="1" height="16"/><rect x="456" y="522" width="1" height="21"/><rect x="464" y="522" width="1" height="27"/><rect x="472" y="522" width="1" height="33"/><rect x="480" y="522" width="1" height="38"/><rect x="488" y="522" width="1" height="36"/><rect x="496" y="522" width="1" height="34"/><rect x="504" y="522" width="1" height="31"/><rect x="512" y="522" width="1" height="23"/><rect x="520" y="522" width="1" height="19"/><rect x="528" y="522" width="1" height="14"/><rect x="536" y="522" width="1" height="11"/><rect x="544" y="522" width="1" height="11"/><rect x="552" y="522" width="1" height="9"/><rect x="560" y="522" width="1" height="5"/><rect x="576" y="519" width="1" height="4"/><rect x="584" y="515" width="1" height="8"/><rect x="592" y="513" width="1" height="10"/><rect x="600" y="510" width="1" height="13"/><rect x="608" y="504" width="1" height="19"/><rect x="616" y="499" width="1" height="24"/><rect x="624" y="496" width="1" height="27"/><rect x="632" y="492" width="1" height="31"/><rect x="640" y="493" width="1" height="30"/><rect x="648" y="494" width="1" height="29"/><rect x="656" y="494" width="1" height="29"/><rect x="664" y="490" width="1" height="33"/><rect x="672" y="484" width="1" height="39"/><rect x="680" y="480" width="1" height="43"/><rect x="688" y="478" width="1" height="45"/><rect x="696" y="477" width="1" height="46"/><rect x="704" y="474" width="1" height="49"/><rect x="712" y="475" width="1" height="48"/><rect x="720" y="478" width="1" height="45"/><rect x="728" y="480" width="1" height="43"/><rect x="736" y="482" width="1" height="41"/><rect x="744" y="482" width="1" height="41"/><rect x="752" y="482" width="1" height="41"/><rect x="760" y="490" width="1" height="33"/><rect x="768" y="497" width="1" height="26"/><rect x="776" y="510" width="1" height="13"/><rect x="784" y="517" width="1" height="6"/><rect x="800" y="522" width="1" height="8"/><rect x="808" y="522" width="1" height="9"/><rect x="816" y="522" width="1" height="9"/><rect x="824" y="522" width="1" height="8"/><rect x="832" y="522" width="1" height="8"/><rect x="840" y="522" width="1" height="7"/><rect x="848" y="522" width="1" height="5"/><rect x="856" y="522" width="1" height="4"/><rect x="888" y="521" width="1" height="2"/><rect x="896" y="518" width="1" height="5"/><rect x="904" y="517" width="1" height="6"/><rect x="912" y="518" width="1" height="5"/><rect x="920" y="518" width="1" height="5"/><rect x="928" y="520" width="1" height="3"/><rect x="936" y="521" width="1" height="2"/><rect x="952" y="521" width="1" height="2"/><rect x="984" y="521" width="1" height="2"/><rect x="992" y="519" width="1" height="4"/><rect x="1000" y="518" width="1" height="5"/><rect x="1008" y="520" width="1" height="3"/><rect x="1016" y="521" width="1" height="2"/><rect x="1024" y="520" width="1" height="3"/><rect x="1032" y="520" width="1" height="3"/><rect x="1040" y="518" width="1" height="5"/><rect x="1048" y="518" width="1" height="5"/><rect x="1056" y="512" width="1" height="11"/><rect x="1064" y="508" width="1" height="15"/><rect x="1072" y="506" width="1" height="17"/><rect x="1080" y="503" width="1" height="20"/><rect x="1088" y="502" width="1" height="21"/><rect x="1096" y="502" width="1" height="21"/><rect x="1104" y="501" width="1" height="22"/><rect x="1112" y="499" width="1" height="24"/><rect x="1120" y="498" width="1" height="25"/><rect x="1128" y="496" width="1" height="27"/><rect x="1136" y="495" width="1" height="28"/><rect x="1144" y="494" width="1" height="29"/><rect x="1152" y="494" width="1" height="29"/><rect x="1160" y="494" width="1" height="29"/><rect x="1168" y="494" width="1" height="29"/><rect x="1176" y="492" width="1" height="31"/><rect x="40" y="522" width="1" height="1"/><rect x="48" y="522" width="1" height="1"/><rect x="56" y="522" width="1" height="1"/><rect x="424" y="522" width="1" height="1"/><rect x="864" y="522" width="1" height="1"/><rect x="880" y="522" width="1" height="1"/><rect x="944" y="522" width="1" height="1"/><rect x="960" y="522" width="1" height="1"/><rect x="968" y="522" width="1" height="1"/><rect x="976" y="522" width="1" height="1"/>
</g>
<g clip-path="url(#c2)" stroke="#ff0000" stroke-width="1" fill="none" shape-rendering="crispEdges">
<polyline points="6.0,540.8 8.5,539.5 11.0,538.3"/><polyline points="14.0,536.8 16.5,535.6 19.0,534.9"/><polyline points="22.0,534.0 24.5,533.2 27.0,532.3"/><polyline points="30.0,531.1 32.5,530.3 35.0,529.6"/><polyline points="38.0,528.9 40.5,528.2 43.0,527.5"/><polyline points="46.0,526.6 48.5,525.9 51.0,525.5"/><polyline points="54.0,525.0 56.5,524.6 59.0,524.2"/><polyline points="62.0,523.6 64.5,523.2 67.0,522.5"/><polyline points="70.0,521.8 72.5,521.2 75.0,520.5"/><polyline points="78.0,519.8 80.5,519.1 83.0,518.2"/><polyline points="86.0,517.0 88.5,516.2 91.0,515.5"/><polyline points="94.0,514.8 96.5,514.1 99.0,513.3"/><polyline points="102.0,512.4 104.5,511.5 107.0,510.4"/><polyline points="110.0,509.1 112.5,508.0 115.0,507.1"/><polyline points="118.0,505.9 120.5,505.1 123.0,504.3"/><polyline points="126.0,503.4 128.5,502.7 131.0,502.4"/><polyline points="134.0,501.9 136.5,501.5 139.0,501.2"/><polyline points="142.0,500.9 144.5,500.6 147.0,500.4"/><polyline points="150.0,500.3 152.5,500.2 155.0,500.2"/><polyline points="158.0,500.2 160.5,500.3 163.0,500.9"/><polyline points="166.0,501.7 168.5,502.3 171.0,502.6"/><polyline points="174.0,502.9 176.5,503.3 179.0,503.6"/><polyline points="182.0,503.9 184.5,504.3 187.0,504.9"/><polyline points="190.0,505.7 192.5,506.3 195.0,506.6"/><polyline points="198.0,506.9 200.5,507.3 203.0,507.6"/><polyline points="206.0,507.9 208.5,508.3 211.0,508.6"/><polyline points="214.0,508.9 216.5,509.3 219.0,509.8"/><polyline points="222.0,510.3 224.5,510.7 227.0,510.9"/><polyline points="230.0,511.1 232.5,511.3 235.0,511.4"/><polyline points="238.0,511.6 240.5,511.8 243.0,512.1"/><polyline points="246.0,512.5 248.5,512.8 251.0,513.1"/><polyline points="254.0,513.5 256.5,513.7 259.0,513.5"/><polyline points="262.0,513.4 264.5,513.3 267.0,513.1"/><polyline points="270.0,512.9 272.5,512.7 275.0,512.5"/><polyline points="278.0,512.4 280.5,512.2 283.0,511.7"/><polyline points="286.0,511.1 288.5,510.5 291.0,509.8"/><polyline points="294.0,508.8 296.5,508.1 299.0,507.6"/><polyline points="302.0,507.0 304.5,506.5 307.0,505.9"/><polyline points="310.0,505.1 312.5,504.5 315.0,503.7"/><polyline points="318.0,502.8 320.5,502.1 323.0,501.6"/><polyline points="326.0,501.0 328.5,500.5 331.0,499.9"/><polyline points="334.0,499.1 336.5,498.5 339.0,498.2"/><polyline points="342.0,497.9 344.5,497.5 347.0,497.2"/><polyline points="350.0,496.9 352.5,496.5 355.0,496.2"/><polyline points="358.0,495.9 360.5,495.5 363.0,495.2"/><polyline points="366.0,494.9 368.5,494.6 371.0,494.6"/><polyline points="374.0,494.6 376.5,494.5 379.0,494.2"/><polyline points="382.0,493.9 384.5,493.6 387.0,493.6"/><polyline points="390.0,493.6 392.5,493.6 395.0,493.6"/><polyline points="398.0,493.6 400.5,493.6 403.0,493.6"/><polyline points="406.0,493.6 408.5,493.7 411.0,494.2"/><polyline points="414.0,494.8 416.5,495.4 419.0,496.3"/><polyline points="422.0,497.4 424.5,498.4 427.0,499.6"/><polyline points="430.0,500.9 432.5,502.1 435.0,503.8"/><polyline points="438.0,505.9 440.5,507.6 443.0,509.5"/><polyline points="446.0,511.8 448.5,513.6 451.0,515.2"/><polyline points="454.0,517.0 456.5,518.7 459.0,520.9"/><polyline points="462.0,523.5 464.5,525.8 467.0,528.1"/><polyline points="470.0,530.9 472.5,533.2 475.0,535.2"/><polyline points="478.0,537.6 480.5,539.4 483.0,540.5"/><polyline points="486.0,541.8 488.5,542.9 491.0,544.1"/><polyline points="494.0,545.5 496.5,546.8 499.0,548.0"/><polyline points="502.0,549.5 504.5,550.6 507.0,550.9"/><polyline points="510.0,551.2 512.5,551.6 515.0,551.9"/><polyline points="518.0,552.2 520.5,552.4 523.0,552.1"/><polyline points="526.0,551.8 528.5,551.4 531.0,550.8"/><polyline points="534.0,550.0 536.5,549.3 539.0,548.4"/><polyline points="542.0,547.2 544.5,546.3 547.0,545.3"/><polyline points="550.0,544.2 552.5,543.2 555.0,542.3"/><polyline points="558.0,541.1 560.5,540.1 563.0,538.9"/><polyline points="566.0,537.4 568.5,536.1 571.0,534.9"/><polyline points="574.0,533.4 576.5,532.2 579.0,531.0"/><polyline points="582.0,529.7 584.5,528.6 587.0,527.5"/><polyline points="590.0,526.2 592.5,525.1 595.0,524.3"/><polyline points="598.0,523.4 600.5,522.5 603.0,521.4"/><polyline points="606.0,520.1 608.5,519.0 611.0,517.8"/><polyline points="614.0,516.3 616.5,515.1 619.0,513.9"/><polyline points="622.0,512.6 624.5,511.4 627.0,510.2"/><polyline points="630.0,508.6 632.5,507.4 635.0,506.5"/><polyline points="638.0,505.4 640.5,504.4 643.0,503.3"/><polyline points="646.0,502.1 648.5,501.0 651.0,500.2"/><polyline points="654.0,499.2 656.5,498.5 659.0,497.9"/><polyline points="662.0,497.1 664.5,496.4 667.0,495.5"/><polyline points="670.0,494.4 672.5,493.4 675.0,492.4"/><polyline points="678.0,491.3 680.5,490.4 683.0,489.8"/><polyline points="686.0,489.0 688.5,488.4 691.0,487.6"/><polyline points="694.0,486.7 696.5,486.0 699.0,485.4"/><polyline points="702.0,484.6 704.5,484.0 707.0,483.5"/><polyline points="710.0,482.9 712.5,482.4 715.0,481.8"/><polyline points="718.0,481.0 720.5,480.4 723.0,479.8"/><polyline points="726.0,479.1 728.5,478.6 731.0,478.6"/><polyline points="734.0,478.5 736.5,478.4 739.0,478.2"/><polyline points="742.0,477.9 744.5,477.8 747.0,478.0"/><polyline points="750.0,478.3 752.5,478.6 755.0,478.9"/><polyline points="758.0,479.2 760.5,479.6 763.0,480.2"/><polyline points="766.0,481.0 768.5,481.8 771.0,483.0"/><polyline points="774.0,484.5 776.5,485.8 779.0,487.2"/><polyline points="782.0,489.0 784.5,490.4 787.0,492.0"/><polyline points="790.0,493.9 792.5,495.5 795.0,497.2"/><polyline points="798.0,499.2 800.5,501.0 803.0,502.7"/><polyline points="806.0,504.8 808.5,506.6 811.0,508.6"/><polyline points="814.0,511.1 816.5,513.0 819.0,514.6"/><polyline points="822.0,516.5 824.5,518.0 827.0,519.4"/><polyline points="830.0,521.1 832.5,522.5 835.0,523.7"/><polyline points="838.0,525.1 840.5,526.1 843.0,526.9"/><polyline points="846.0,527.8 848.5,528.5 851.0,528.8"/><polyline points="854.0,529.1 856.5,529.4 859.0,529.4"/><polyline points="862.0,529.4 864.5,529.3 867.0,529.0"/><polyline points="870.0,528.6 872.5,528.4 875.0,528.2"/><polyline points="878.0,527.9 880.5,527.7 883.0,527.2"/><polyline points="886.0,526.7 888.5,526.2 891.0,525.5"/><polyline points="894.0,524.8 896.5,524.2 899.0,523.7"/><polyline points="902.0,523.1 904.5,522.6 907.0,522.3"/><polyline points="910.0,522.0 912.5,521.6 915.0,521.3"/><polyline points="918.0,521.0 920.5,520.6 923.0,520.3"/><polyline points="926.0,520.0 928.5,519.7 931.0,519.5"/><polyline points="934.0,519.4 936.5,519.3 939.0,519.3"/><polyline points="942.0,519.3 944.5,519.3 947.0,519.1"/><polyline points="950.0,518.9 952.5,518.7 955.0,519.0"/><polyline points="958.0,519.2 960.5,519.4 963.0,519.5"/><polyline points="966.0,519.7 968.5,519.8 971.0,519.9"/><polyline points="974.0,520.0 976.5,520.1 979.0,520.2"/><polyline points="982.0,520.2 984.5,520.3 987.0,520.3"/><polyline points="990.0,520.3 992.5,520.3 995.0,520.3"/><polyline points="998.0,520.3 1000.5,520.3 1003.0,520.3"/><polyline points="1006.0,520.3 1008.5,520.3 1011.0,520.0"/><polyline points="1014.0,519.8 1016.5,519.6 1019.0,519.6"/><polyline points="1022.0,519.6 1024.5,519.6 1027.0,519.6"/><polyline points="1030.0,519.6 1032.5,519.6 1035.0,519.6"/><polyline points="1038.0,519.6 1040.5,519.6 1043.0,519.4"/><polyline points="1046.0,519.1 1048.5,518.9 1051.0,518.4"/><polyline points="1054.0,517.8 1056.5,517.3 1059.0,517.0"/><polyline points="1062.0,516.5 1064.5,516.1 1067.0,515.8"/><polyline points="1070.0,515.3 1072.5,514.9 1075.0,514.2"/><polyline points="1078.0,513.3 1080.5,512.7 1083.0,512.1"/><polyline points="1086.0,511.4 1088.5,510.9 1091.0,510.2"/><polyline points="1094.0,509.5 1096.5,508.9 1099.0,508.2"/><polyline points="1102.0,507.5 1104.5,506.9 1107.0,506.4"/><polyline points="1110.0,505.9 1112.5,505.3 1115.0,504.2"/><polyline points="1118.0,502.9 1120.5,501.9 1123.0,501.6"/><polyline points="1126.0,501.2 1128.5,500.9 1131.0,500.3"/><polyline points="1134.0,499.6 1136.5,499.2 1139.0,498.9"/><polyline points="1142.0,498.7 1144.5,498.4 1147.0,498.1"/><polyline points="1150.0,497.6 1152.5,497.2 1155.0,497.0"/><polyline points="1158.0,496.6 1160.5,496.3 1163.0,496.0"/><polyline points="1166.0,495.6 1168.5,495.2 1171.0,494.9"/><polyline points="1174.0,494.4 1176.5,494.1 1177.0,494.1"/>
</g>
<text x="11.3" y="479.8" textLength="127.9" lengthAdjust="spacingAndGlyphs">MACD(12,26,9) 1.4849 1.3369</text>
<text x="1198.2" y="478" textLength="28.1" lengthAdjust="spacingAndGlyphs">2.5593</text>
<text x="1198.2" y="525.5" textLength="18.2" lengthAdjust="spacingAndGlyphs">0.00</text>
<text x="1198.2" y="562" textLength="30.9" lengthAdjust="spacingAndGlyphs">-2.0366</text>
<g shape-rendering="crispEdges" stroke="#c0c0c0" stroke-width="1" stroke-dasharray="3 3">
<line x1="9" y1="598.5" x2="1195" y2="598.5"/><line x1="9" y1="638.5" x2="1195" y2="638.5"/>
</g>
<g clip-path="url(#c3)" shape-rendering="crispEdges">
<path d="M1175 593h2M1173 594h2M1171 595h2M1169 596h2M672 597h4M703 597h2M1165 597h4M670 598h2M676 598h6M701 598h2M705 598h1M1131 598h11M1157 598h8M631 599h2M668 599h2M682 599h4M698 599h3M706 599h1M1126 599h5M1142 599h15M629 600h2M633 600h1M666 600h2M686 600h12M707 600h1M1121 600h5M303 601h2M626 601h3M633 601h1M664 601h2M708 601h2M1056 601h3M1111 601h10M301 602h2M305 602h1M359 602h5M613 602h13M634 602h1M663 602h1M710 602h1M1055 602h1M1059 602h4M1085 602h4M1108 602h3M107 603h6M299 603h2M306 603h1M355 603h4M364 603h8M608 603h5M635 603h1M662 603h1M711 603h1M1054 603h1M1063 603h22M1089 603h2M1105 603h3M94 604h13M113 604h1M272 604h12M297 604h2M306 604h1M352 604h3M372 604h5M607 604h1M636 604h1M661 604h1M712 604h1M751 604h2M1054 604h1M1091 604h1M1103 604h2M71 605h5M89 605h5M114 605h1M270 605h2M284 605h13M307 605h1M350 605h2M377 605h1M605 605h2M636 605h1M659 605h2M713 605h1M747 605h4M753 605h1M1053 605h1M1092 605h1M1101 605h2M69 606h2M76 606h4M81 606h8M115 606h1M269 606h1M308 606h1M333 606h5M348 606h2M378 606h2M604 606h1M637 606h1M658 606h1M714 606h1M728 606h2M743 606h4M753 606h1M1052 606h1M1093 606h2M1099 606h2M67 607h2M80 607h1M115 607h1M256 607h2M267 607h2M308 607h1M326 607h7M338 607h4M346 607h2M380 607h1M603 607h1M638 607h1M657 607h1M715 607h1M726 607h2M730 607h4M739 607h4M754 607h1M1052 607h1M1095 607h1M1097 607h2M65 608h2M116 608h1M254 608h2M258 608h4M265 608h2M309 608h1M321 608h5M342 608h4M381 608h1M391 608h2M583 608h3M601 608h2M639 608h1M655 608h2M716 608h2M725 608h1M734 608h5M754 608h1M1051 608h1M1096 608h1M64 609h1M117 609h1M252 609h2M262 609h3M310 609h1M319 609h2M382 609h2M387 609h4M393 609h2M579 609h4M586 609h2M599 609h2M639 609h1M651 609h4M718 609h1M723 609h2M755 609h1M1050 609h1M63 610h1M118 610h1M175 610h5M250 610h2M310 610h1M317 610h2M384 610h3M395 610h2M566 610h13M588 610h3M595 610h4M640 610h11M719 610h1M721 610h2M755 610h1M1050 610h1M62 611h1M119 611h1M174 611h1M180 611h4M249 611h1M311 611h1M315 611h2M397 611h2M561 611h5M591 611h4M720 611h1M756 611h1M1049 611h1M61 612h1M119 612h1M130 612h9M172 612h2M184 612h3M247 612h2M312 612h3M399 612h2M560 612h1M756 612h1M894 612h5M1048 612h1M61 613h1M120 613h10M139 613h2M170 613h2M187 613h3M246 613h1M312 613h1M401 613h1M527 613h2M559 613h1M757 613h1M891 613h3M899 613h3M981 613h7M997 613h4M1039 613h10M24 614h2M48 614h1M60 614h1M141 614h3M169 614h1M190 614h12M245 614h1M401 614h1M523 614h4M529 614h2M557 614h2M757 614h1M887 614h4M902 614h4M977 614h4M988 614h4M993 614h4M1001 614h1M1034 614h5M8 615h2M22 615h2M26 615h7M47 615h1M49 615h2M59 615h1M144 615h9M168 615h1M202 615h5M244 615h1M402 615h1M512 615h11M531 615h2M556 615h1M758 615h1M861 615h15M883 615h4M906 615h3M952 615h1M974 615h3M992 615h1M1002 615h1M1016 615h5M1028 615h6M10 616h2M21 616h1M33 616h1M46 616h1M51 616h1M58 616h1M153 616h1M167 616h1M207 616h5M243 616h1M403 616h1M509 616h3M533 616h1M555 616h1M758 616h1M847 616h14M876 616h7M909 616h3M915 616h6M951 616h1M953 616h2M972 616h2M1003 616h1M1015 616h1M1021 616h7M12 617h2M19 617h2M34 617h2M45 617h1M52 617h2M57 617h1M154 617h1M166 617h1M212 617h4M242 617h1M404 617h1M507 617h2M534 617h2M554 617h1M759 617h1M843 617h4M912 617h3M921 617h2M949 617h2M955 617h2M969 617h3M1003 617h1M1014 617h1M14 618h2M17 618h2M36 618h1M44 618h1M54 618h2M57 618h1M154 618h1M166 618h1M216 618h2M241 618h1M405 618h1M505 618h2M536 618h2M553 618h1M759 618h1M839 618h4M923 618h2M948 618h1M957 618h2M964 618h5M1004 618h1M1013 618h1M16 619h1M37 619h1M42 619h2M56 619h1M155 619h1M165 619h1M218 619h3M231 619h10M406 619h1M504 619h1M538 619h3M551 619h2M760 619h1M821 619h5M837 619h2M925 619h2M947 619h1M959 619h5M1005 619h1M1012 619h1M38 620h2M41 620h1M156 620h1M164 620h1M221 620h2M227 620h4M407 620h1M502 620h2M541 620h2M547 620h4M760 620h4M816 620h5M826 620h4M834 620h3M927 620h13M945 620h2M1006 620h1M1011 620h1M40 621h1M156 621h1M164 621h1M223 621h4M407 621h1M501 621h1M543 621h4M764 621h4M813 621h3M830 621h4M940 621h5M1007 621h1M1010 621h1M157 622h1M163 622h1M408 622h1M500 622h1M768 622h1M811 622h2M1007 622h1M1009 622h1M158 623h1M162 623h1M409 623h1M499 623h1M769 623h1M809 623h2M1008 623h1M158 624h1M162 624h1M410 624h1M497 624h2M770 624h1M784 624h5M807 624h2M159 625h1M161 625h1M411 625h1M495 625h2M771 625h1M782 625h2M789 625h4M806 625h1M160 626h1M412 626h1M490 626h5M772 626h1M781 626h1M793 626h3M804 626h2M160 627h1M413 627h1M448 627h2M488 627h2M773 627h1M780 627h1M796 627h2M802 627h2M414 628h1M447 628h1M450 628h2M487 628h1M774 628h1M779 628h1M798 628h2M801 628h1M415 629h1M446 629h1M452 629h2M486 629h1M774 629h1M778 629h1M800 629h1M416 630h2M445 630h1M454 630h2M486 630h1M775 630h1M777 630h1M418 631h2M444 631h1M456 631h2M485 631h1M776 631h1M420 632h2M430 632h4M443 632h1M458 632h2M484 632h1M422 633h2M426 633h4M434 633h3M442 633h1M460 633h2M483 633h1M424 634h2M437 634h3M441 634h1M462 634h2M483 634h1M440 635h1M464 635h4M482 635h1M468 636h6M481 636h1M474 637h5M481 637h1M479 638h2" fill="none" stroke="#1e90ff" stroke-width="1" transform="translate(0,0.5)" />
</g>
<text x="11.3" y="580" textLength="68.1" lengthAdjust="spacingAndGlyphs">RSI(14) 75.2467</text>
<text x="1199.1" y="577.7" textLength="14.6" lengthAdjust="spacingAndGlyphs">100</text>
<text x="1197.7" y="601.8" textLength="9.8" lengthAdjust="spacingAndGlyphs">70</text>
<text x="1197.7" y="642" textLength="9.8" lengthAdjust="spacingAndGlyphs">30</text>
<text x="1198.6" y="664.6">0</text>
<g shape-rendering="crispEdges" fill="#000">
<rect x="8" y="669" width="1" height="3"/><rect x="72" y="669" width="1" height="3"/><rect x="136" y="669" width="1" height="3"/><rect x="200" y="669" width="1" height="3"/><rect x="264" y="669" width="1" height="3"/><rect x="328" y="669" width="1" height="3"/><rect x="392" y="669" width="1" height="3"/><rect x="456" y="669" width="1" height="3"/><rect x="520" y="669" width="1" height="3"/><rect x="584" y="669" width="1" height="3"/><rect x="648" y="669" width="1" height="3"/><rect x="712" y="669" width="1" height="3"/><rect x="776" y="669" width="1" height="3"/><rect x="840" y="669" width="1" height="3"/><rect x="904" y="669" width="1" height="3"/><rect x="968" y="669" width="1" height="3"/><rect x="1032" y="669" width="1" height="3"/><rect x="1096" y="669" width="1" height="3"/><rect x="1160" y="669" width="1" height="3"/>
</g>
<text x="6.4" y="680.6" textLength="51.0" lengthAdjust="spacingAndGlyphs">27 Apr 2022</text>
<text x="70.4" y="680.6" textLength="54.4" lengthAdjust="spacingAndGlyphs">28 Apr 16:00</text>
<text x="135.2" y="680.6" textLength="53.1" lengthAdjust="spacingAndGlyphs">1 May 23:00</text>
<text x="198.4" y="680.6" textLength="53.1" lengthAdjust="spacingAndGlyphs">3 May 04:00</text>
<text x="262.4" y="680.6" textLength="53.1" lengthAdjust="spacingAndGlyphs">4 May 12:00</text>
<text x="326.4" y="680.6" textLength="53.1" lengthAdjust="spacingAndGlyphs">5 May 20:00</text>
<text x="390.4" y="680.6" textLength="53.1" lengthAdjust="spacingAndGlyphs">9 May 00:00</text>
<text x="455.2" y="680.6" textLength="57.4" lengthAdjust="spacingAndGlyphs">10 May 08:00</text>
<text x="519.2" y="680.6" textLength="57.4" lengthAdjust="spacingAndGlyphs">11 May 16:00</text>
<text x="583.2" y="680.6" textLength="57.4" lengthAdjust="spacingAndGlyphs">13 May 00:00</text>
<text x="647.2" y="680.6" textLength="57.4" lengthAdjust="spacingAndGlyphs">16 May 04:00</text>
<text x="711.2" y="680.6" textLength="57.4" lengthAdjust="spacingAndGlyphs">17 May 12:00</text>
<text x="775.2" y="680.6" textLength="57.4" lengthAdjust="spacingAndGlyphs">18 May 22:00</text>
<text x="838.4" y="680.6" textLength="58.1" lengthAdjust="spacingAndGlyphs">20 May 04:00</text>
<text x="902.4" y="680.6" textLength="58.1" lengthAdjust="spacingAndGlyphs">23 May 08:00</text>
<text x="966.4" y="680.6" textLength="58.1" lengthAdjust="spacingAndGlyphs">24 May 16:00</text>
<text x="1030.4" y="680.6" textLength="58.1" lengthAdjust="spacingAndGlyphs">26 May 00:00</text>
<text x="1094.4" y="680.6" textLength="58.1" lengthAdjust="spacingAndGlyphs">27 May 08:00</text>
<text x="1158.4" y="680.6" textLength="58.1" lengthAdjust="spacingAndGlyphs">30 May 12:00</text>
</svg>
</body></html>
